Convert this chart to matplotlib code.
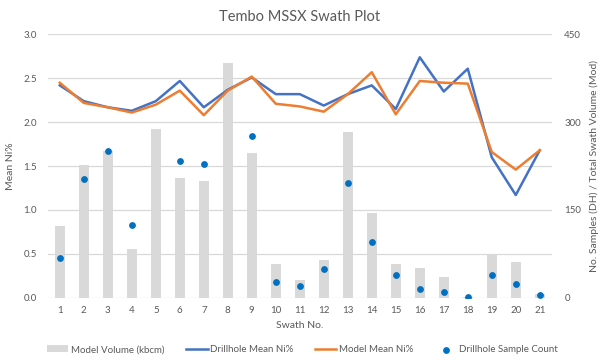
import numpy as np
import matplotlib.pyplot as plt

# swath data
swath = np.arange(1, 22)
model_volume = [122, 227, 250, 84, 289, 204, 199, 401, 247, 58, 30,
                65, 284, 144, 58, 51, 35, 1, 75, 61, 7]
dh_count = [67, 203, 250, 124, np.nan, 233, 229, np.nan, 277, 27, 20,
            49, 196, 95, 38, 14, 9, 1, 39, 24, 4]
dh_mean = [2.42, 2.24, 2.17, 2.13, 2.24, 2.47, 2.17, 2.37, 2.51, 2.32, 2.32,
           2.19, 2.32, 2.42, 2.15, 2.74, 2.35, 2.61, 1.60, 1.17, 1.68]
mod_mean = [2.45, 2.22, 2.17, 2.11, 2.20, 2.36, 2.08, 2.36, 2.52, 2.21, 2.18,
            2.12, 2.32, 2.57, 2.09, 2.47, 2.45, 2.44, 1.66, 1.46, 1.68]

txt = '#595959'
plt.rcParams['font.family'] = ['Lato', 'DejaVu Sans']

fig = plt.figure(figsize=(6.05, 3.63), dpi=100)
ax = fig.add_axes([0.079, 0.18, 0.833, 0.725])
ax2 = ax.twinx()

# bars on secondary axis, drawn behind the primary axis
b = ax2.bar(swath, model_volume, width=0.42, color='#D9D9D9', zorder=1)
ax.set_zorder(ax2.get_zorder() + 1)
ax.patch.set_visible(False)

for y in np.arange(0, 3.01, 0.5):
    ax2.axhline(y * 150, color='#D9D9D9', lw=0.9, zorder=0)

l1, = ax.plot(swath, dh_mean, color='#4472C4', lw=1.8, zorder=3)
l2, = ax.plot(swath, mod_mean, color='#ED7D31', lw=1.8, zorder=3)
# sample counts share the right scale (450 <-> 3.0)
s = ax.scatter(swath, np.array(dh_count) / 150.0, s=15, color='#0070C0',
               zorder=4)

ax.set_xlim(0.5, 21.5)
ax.set_ylim(0, 3.0)
ax2.set_ylim(0, 450)
ax.set_yticks(np.arange(0, 3.01, 0.5))
ax.set_yticklabels(['%.1f' % v for v in np.arange(0, 3.01, 0.5)])
ax2.set_yticks([0, 150, 300, 450])
ax.set_xticks(swath)

for a in (ax, ax2):
    for sp in a.spines.values():
        sp.set_visible(False)
    a.tick_params(length=0, colors=txt, labelsize=7)
ax.tick_params(axis='x', pad=6)
ax.tick_params(axis='y', pad=8)
ax2.tick_params(axis='y', pad=9)

ax.set_xlabel('Swath No.', color=txt, fontsize=7.5, labelpad=4)
ax.set_ylabel('Mean Ni%', color=txt, fontsize=7.5, labelpad=6)
ax2.set_ylabel('No. Samples (DH) / Total Swath Volume (Mod)', color=txt,
               fontsize=7.5, labelpad=6)
ax.set_title('Tembo MSSX Swath Plot', color=txt, fontsize=10.5, pad=10)

fig.legend([b, l1, l2, s],
           ['Model Volume (kbcm)', 'Drillhole Mean Ni%', 'Model Mean Ni%',
            'Drillhole Sample Count'],
           loc='lower center', bbox_to_anchor=(0.5, 0.0), ncol=4,
           frameon=False, fontsize=7, labelcolor=txt, handlelength=2.2,
           columnspacing=2.2, handletextpad=0.3)

fig.savefig('out.png', dpi=100)
